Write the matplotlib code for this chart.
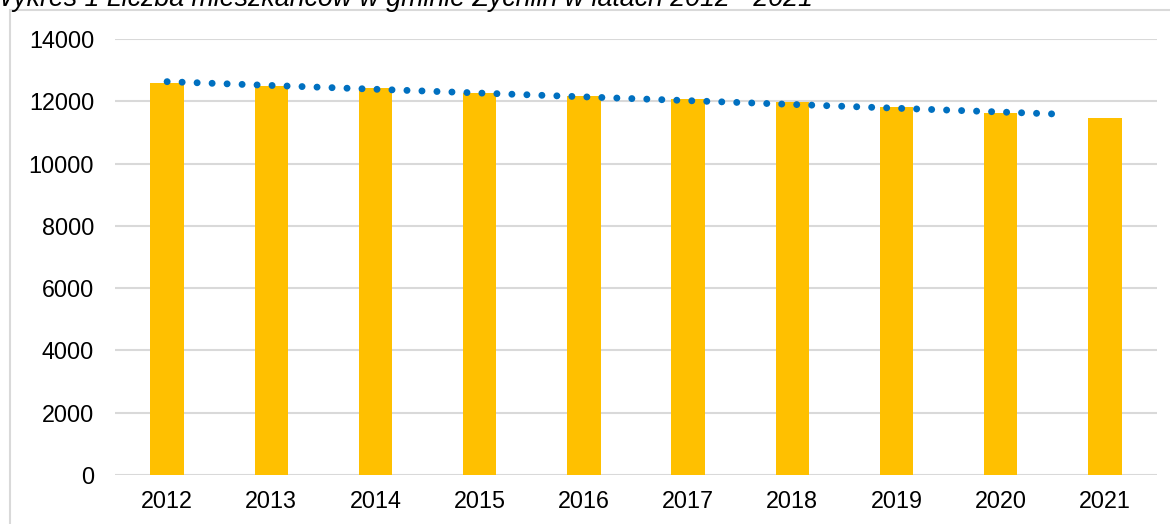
import matplotlib
matplotlib.use('Agg')

import matplotlib.pyplot as plt
import matplotlib.patches as mpatches
import numpy as np

# values
years = ['2012', '2013', '2014', '2015', '2016', '2017', '2018', '2019', '2020', '2021']
residents = [12574, 12487, 12413, 12253, 12166, 12070, 11973, 11803, 11630, 11450]
y_ticks = [0, 2000, 4000, 6000, 8000, 10000, 12000, 14000]
title = 'Wykres 1 Liczba mieszkańców w gminie Żychlin w latach 2012 - 2021'

bar_color = '#FFC000'
trend_color = '#0070C0'
grid_color = '#D9D9D9'

plt.rcParams['font.family'] = ['Liberation Sans', 'DejaVu Sans']

W, H = 1170, 524
fig = plt.figure(figsize=(W / 100.0, H / 100.0), dpi=100)
ax = fig.add_axes([115.0 / W, 1 - 475.0 / H, 1042.0 / W, 436.0 / H])

x = np.arange(len(years))
ax.bar(x, residents, width=0.32, color=bar_color, zorder=2)

# linear trend, drawn the way the spreadsheet did (ends half a category early)
coef = np.polyfit(x, residents, 1)
tx = np.array([0, len(years) - 1.5])
ax.plot(tx, np.polyval(coef, tx), color=trend_color, lw=5.0,
        linestyle=(0, (0.01, 2.15)), dash_capstyle='round', zorder=3)

ax.set_xlim(-0.5, len(years) - 0.5)
ax.set_ylim(0, 14000)
ax.set_yticks(y_ticks)
ax.set_yticklabels([str(v) for v in y_ticks])
ax.set_xticks(x)
ax.set_xticklabels(years)
ax.tick_params(axis='both', length=0, labelsize=16.8, colors='black')
ax.tick_params(axis='y', pad=15)
ax.tick_params(axis='x', pad=11)
ax.yaxis.grid(True, color=grid_color, lw=1.5, zorder=0)
ax.set_axisbelow(True)
for s in ax.spines.values():
    s.set_visible(False)

# chart frame, clipped by the picture edges on the right and bottom
frame = mpatches.Rectangle((10.0 / W, -0.1), 1.2, 1 - 10.0 / H + 0.1,
                           transform=fig.transFigure, fill=False,
                           edgecolor=grid_color, lw=1.5)
fig.patches.append(frame)

fig.text(813.0 / W, 1 - 6.0 / H, title, fontsize=19.3, style='italic',
         ha='right', va='baseline')

fig.savefig('out.png', dpi=100)
